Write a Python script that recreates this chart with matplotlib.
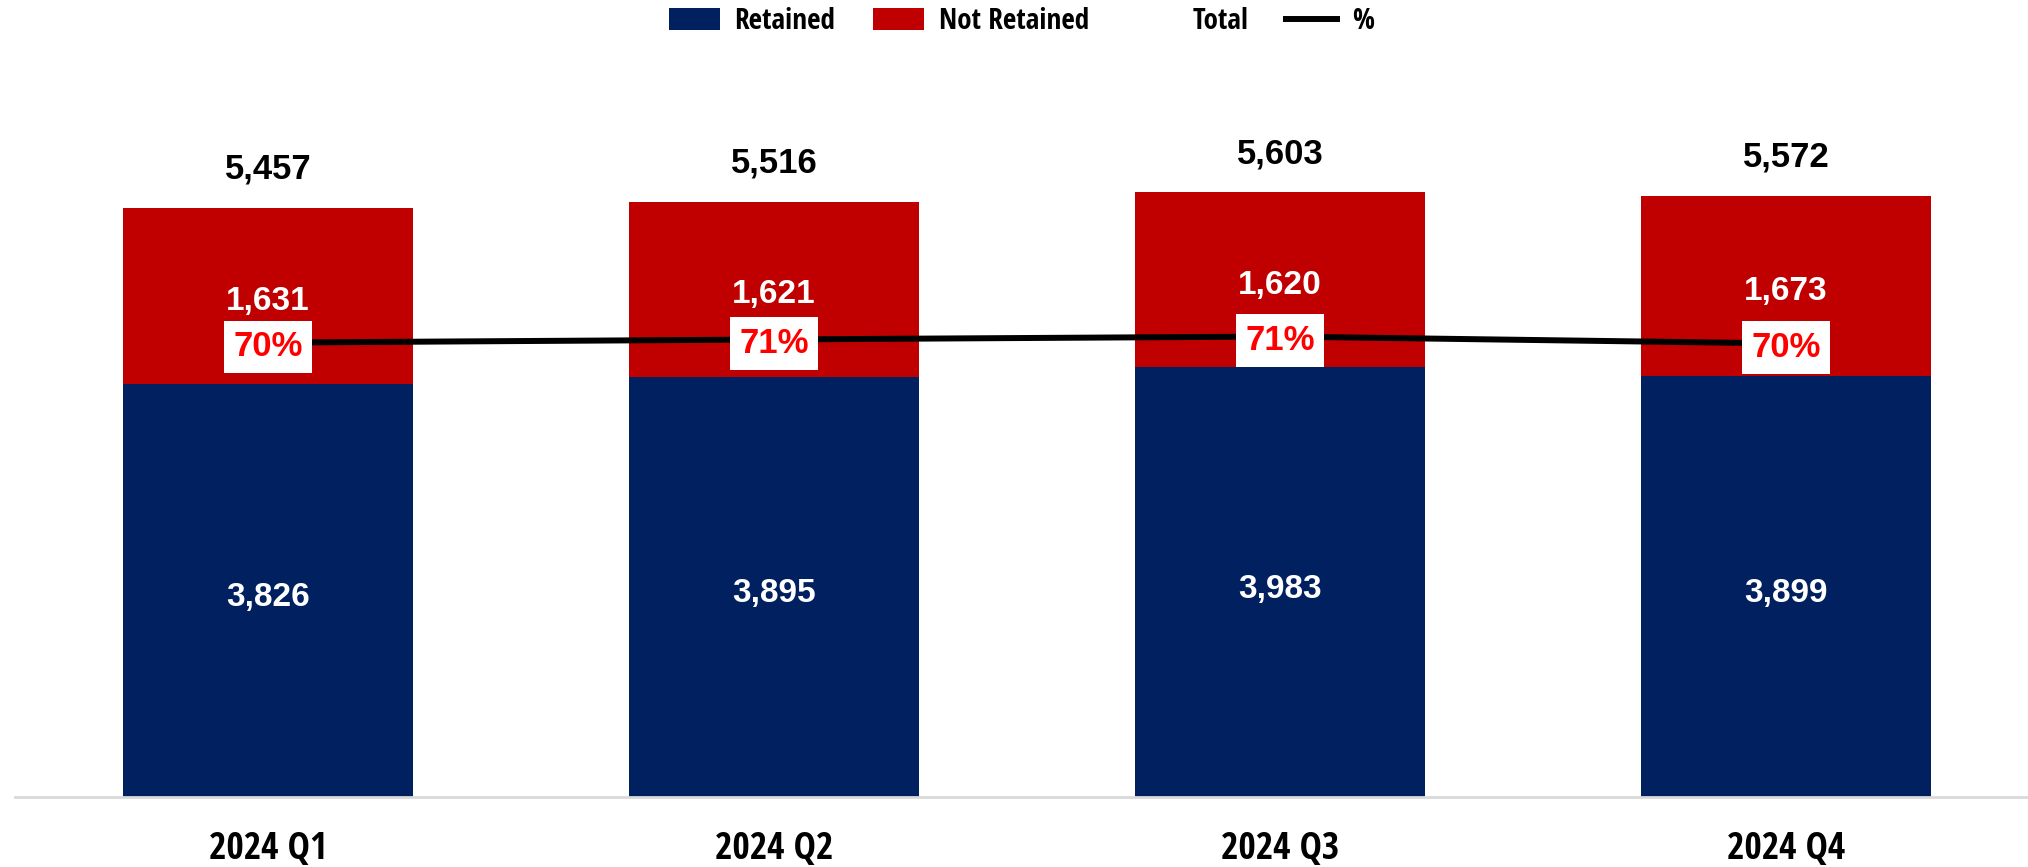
import matplotlib
matplotlib.use("Agg")
import matplotlib.pyplot as plt
from matplotlib.patches import Patch
from matplotlib.lines import Line2D
import numpy as np

categories = ["2024 Q1", "2024 Q2", "2024 Q3", "2024 Q4"]
retained = [3826, 3895, 3983, 3899]
not_retained = [1631, 1621, 1620, 1673]
totals = [5457, 5516, 5603, 5572]
pct_labels = ["70%", "71%", "71%", "70%"]

BLUE = "#002060"
RED = "#C00000"
NARROW = ["Open Sans Condensed", "IBM Plex Sans Condensed", "DejaVu Sans"]
BOLD = ["Liberation Sans", "DejaVu Sans"]

fig = plt.figure(figsize=(20.28, 8.67), dpi=100)
ax = fig.add_axes([15/2028, 70/867, 2024/2028, 737/867])
x = np.arange(len(categories))
w = 0.573

ax.bar(x, retained, w, color=BLUE, zorder=2)
ax.bar(x, not_retained, w, bottom=retained, color=RED, zorder=2)
ax.set_xlim(-0.5, 3.5)
ax.set_ylim(0, 6830)

for i in range(len(categories)):
    ax.annotate(f"{retained[i]:,}", (x[i], retained[i] / 2), xytext=(0, -5),
                textcoords="offset points", ha="center", va="center",
                color="white", fontsize=24, fontweight="bold", family=BOLD, zorder=5)
    ax.annotate(f"{not_retained[i]:,}", (x[i], retained[i] + not_retained[i] / 2),
                xytext=(0, -4), textcoords="offset points", ha="center", va="center",
                color="white", fontsize=24, fontweight="bold", family=BOLD, zorder=5)
    ax.annotate(f"{totals[i]:,}", (x[i], totals[i]), xytext=(0, 16), textcoords="offset points",
                ha="center", va="bottom", color="black", fontsize=25, fontweight="bold",
                family=BOLD, zorder=5)

for s in ["top", "right", "left"]:
    ax.spines[s].set_visible(False)
ax.spines["bottom"].set_color("#D9D9D9")
ax.spines["bottom"].set_linewidth(2)
ax.set_yticks([])
ax.set_xticks(x)
ax.set_xticklabels(categories, fontsize=27, fontweight="bold", family=NARROW)
ax.tick_params(axis="x", length=0, pad=24)

pct = [r / t for r, t in zip(retained, totals)]
ax2 = ax.twinx()
ax2.set_ylim(-0.0259, 1.1533)
ax2.plot(x, pct, color="black", lw=4.3, zorder=3, solid_capstyle="butt")
for i in range(len(categories)):
    ax2.annotate(pct_labels[i], (x[i], pct[i]), xytext=(0, -3), textcoords="offset points",
                 ha="center", va="center", color="#FF0000",
                 fontsize=25, fontweight="bold", family=BOLD, zorder=6,
                 bbox=dict(boxstyle="square,pad=0.28", facecolor="white", edgecolor="none"))
ax2.set_yticks([])
for s in ax2.spines.values():
    s.set_visible(False)

handles = [Patch(facecolor=BLUE), Patch(facecolor=RED),
           Line2D([], [], color="none"), Line2D([], [], color="black", lw=4.3)]
labels = ["Retained", "Not Retained", "Total", "%"]
fig.legend(handles, labels, loc="upper center", bbox_to_anchor=(0.5036, 1.005), ncol=4,
           frameon=False, prop=dict(family=NARROW, size=21, weight="bold"),
           handlelength=1.75, handleheight=0.75, handletextpad=0.5, columnspacing=1.3,
           borderaxespad=0.0)

fig.savefig("out.png", dpi=100)
